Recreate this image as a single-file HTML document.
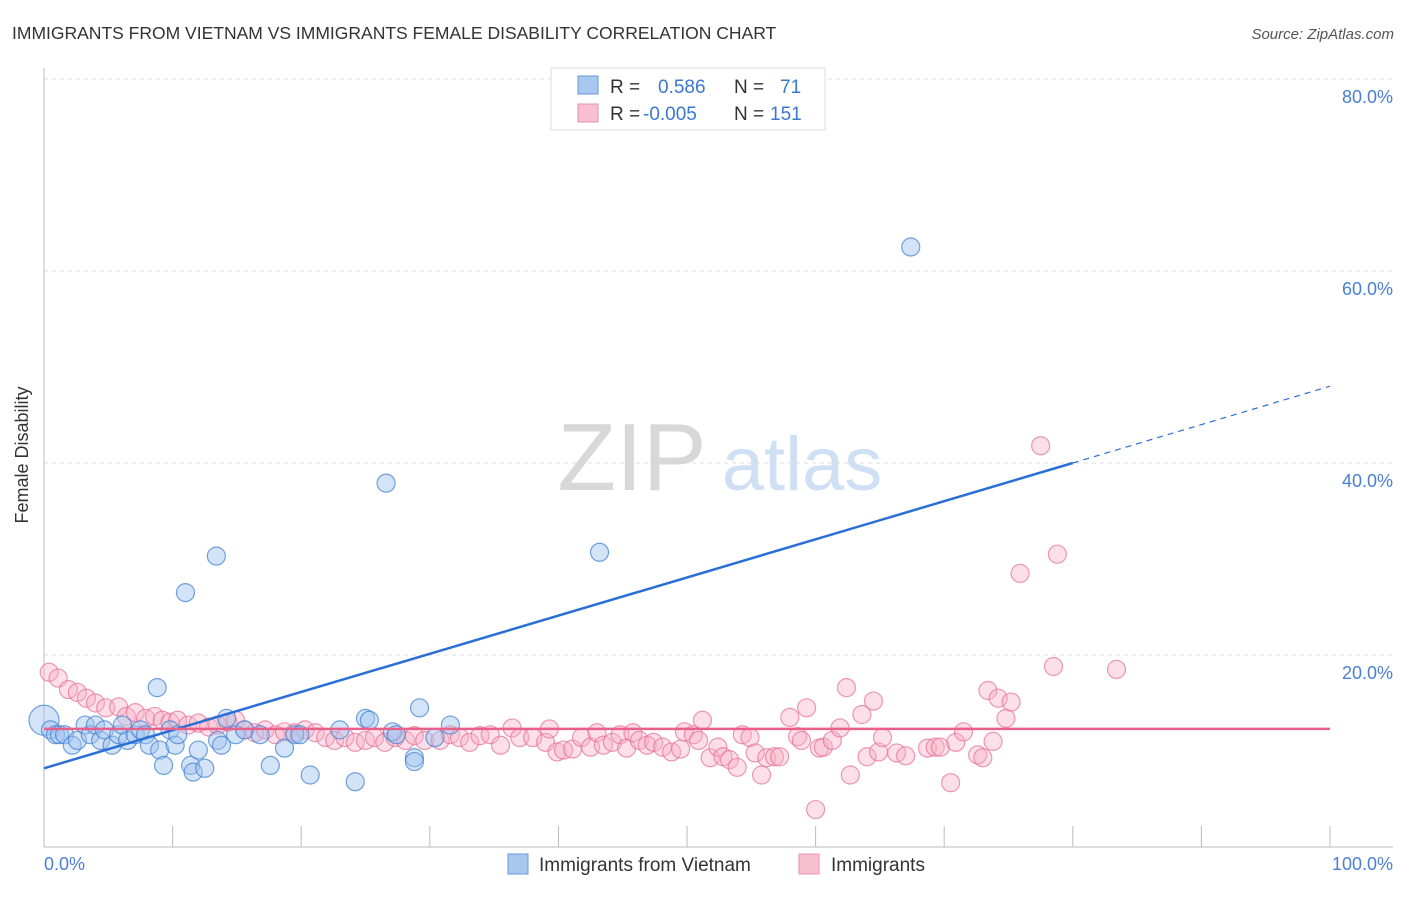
<!DOCTYPE html>
<html><head><meta charset="utf-8"><style>
body{margin:0;background:#fff;font-family:"Liberation Sans",sans-serif;}
svg text{font-family:"Liberation Sans",sans-serif;}
</style></head><body>
<svg id="chart" width="1406" height="892" xmlns="http://www.w3.org/2000/svg">
<text x="12" y="39" font-size="17.5" fill="#333">IMMIGRANTS FROM VIETNAM VS IMMIGRANTS FEMALE DISABILITY CORRELATION CHART</text>
<text x="1394" y="39" font-size="15" fill="#555" font-style="italic" text-anchor="end">Source: ZipAtlas.com</text>
<text x="28" y="455" font-size="18" fill="#333" text-anchor="middle" transform="rotate(-90 28 455)">Female Disability</text>
<g>
<text x="632" y="490" font-size="96" fill="#d8d8d8" font-family="Liberation Serif" text-anchor="middle">ZIP</text>
<text x="802" y="490" font-size="76" fill="#cfe0f4" text-anchor="middle">atlas</text>
</g>
<g id="grid"></g><g id="axes"></g><g id="pinkPts"></g><g id="bluePts"></g><g id="trends"></g>
<g>
<rect x="551" y="68" width="274" height="62" fill="#fff" stroke="#ddd"/>
<rect x="578" y="76" width="20" height="18" fill="#a8c8f0" stroke="#6a9ad8"/>
<rect x="578" y="104" width="20" height="18" fill="#f8c0d0" stroke="#e890aa"/>
<text x="610" y="93" font-size="19" fill="#333">R = <tspan fill="#3a78d0" x="658">0.586</tspan><tspan x="734" fill="#333">N = </tspan><tspan x="780" fill="#3a78d0">71</tspan></text>
<text x="610" y="120" font-size="19" fill="#333">R = <tspan fill="#3a78d0" x="643">-0.005</tspan><tspan x="734" fill="#333">N = </tspan><tspan x="770" fill="#3a78d0">151</tspan></text>
</g>
<g>
<rect x="508" y="854" width="20" height="20" fill="#a8c8f0" stroke="#6a9ad8"/>
<text x="539" y="871" font-size="19" fill="#333">Immigrants from Vietnam</text>
<rect x="799" y="854" width="20" height="20" fill="#f8c0d0" stroke="#e890aa"/>
<text x="831" y="871" font-size="19" fill="#333">Immigrants</text>
</g>
</svg>
<script>
const yTicks=[20,40,60,80];
const yTickLabels=["20.0%","40.0%","60.0%","80.0%"];
const xTicks=[0,10,20,30,40,50,60,70,80,90,100];
const blueX=[0,0.5,0.9,1.2,1.6,2.2,2.6,3.2,3.6,4.0,4.4,4.7,5.3,5.8,6.1,6.5,7.1,7.5,7.9,8.2,8.8,9.0,9.3,9.8,10.2,10.4,11.0,11.4,11.6,12.0,12.5,13.4,13.5,13.8,14.2,14.9,15.6,16.8,17.6,18.7,19.5,19.9,20.7,23.0,24.2,25.0,25.3,26.6,27.1,27.4,28.8,28.8,29.2,30.4,31.6,43.2,67.4];
const blueY=[13.2,12.2,11.7,11.7,11.7,10.6,11.1,12.7,11.7,12.7,11.1,12.2,10.6,11.7,12.7,11.1,11.7,12.2,11.7,10.6,16.6,10.1,8.5,12.2,10.6,11.7,26.5,8.5,7.8,10.1,8.2,30.3,11.1,10.6,13.4,11.7,12.2,11.7,8.5,10.3,11.7,11.7,7.5,12.2,6.8,13.4,13.2,37.9,12.0,11.7,9.3,8.9,14.5,11.4,12.7,30.7,62.5];
const pinkX=[0.4,1.1,1.9,2.6,3.3,4.0,4.8,5.8,6.4,7.1,7.9,8.6,9.2,9.8,10.4,11.2,12.0,12.8,13.5,14.3,14.9,15.6,16.4,17.2,18.0,18.7,19.5,20.3,21.1,21.9,22.6,23.4,24.2,25.0,25.7,26.5,27.3,28.1,28.8,29.6,30.8,31.6,32.3,33.1,33.9,34.7,35.5,36.4,37.0,38.0,39.0,39.3,39.9,40.4,41.1,41.8,42.5,43.0,43.5,44.2,44.8,45.3,45.8,46.3,46.9,47.4,48.1,48.8,49.5,49.8,50.5,50.9,51.2,51.8,52.4,52.8,53.3,53.9,54.3,54.9,55.3,55.8,56.2,56.8,57.2,58.0,58.6,58.9,59.3,60.0,60.3,60.6,61.3,61.9,62.4,62.7,63.6,64.0,64.5,64.9,65.2,66.3,67.0,68.7,69.3,69.7,70.5,70.9,71.5,72.6,73.0,73.4,73.8,74.2,74.8,75.2,75.9,77.5,78.5,78.8,83.4];
const pinkY=[18.2,17.6,16.4,16.1,15.5,15.0,14.5,14.6,13.6,14.0,13.4,13.6,13.2,13.0,13.2,12.7,12.9,12.5,12.7,13.0,13.2,12.2,11.9,12.2,11.7,12.0,11.9,12.2,11.9,11.4,11.1,11.4,10.9,11.1,11.4,10.9,11.4,11.1,11.6,11.1,11.1,11.7,11.4,10.9,11.6,11.7,10.6,12.4,11.4,11.4,10.9,12.3,9.9,10.1,10.2,11.4,10.4,11.9,10.6,10.9,11.7,10.3,11.9,11.1,10.6,10.9,10.4,9.9,10.2,12.0,11.7,11.1,13.2,9.3,10.4,9.4,9.1,8.3,11.7,11.4,9.8,7.5,9.3,9.4,9.4,13.5,11.5,11.1,14.5,3.9,10.3,10.4,11.1,12.4,16.6,7.5,13.8,9.4,15.2,9.9,11.4,9.8,9.5,10.3,10.4,10.4,6.7,10.9,12.0,9.6,9.3,16.3,11.0,15.5,13.4,15.1,28.5,41.8,18.8,30.5,18.5];
const blueTrend=[[0,8.2],[80,40],[100,48]];
const pinkTrend=[[0,12.3],[100,12.3]];
const NS="http://www.w3.org/2000/svg";
function sx(v){return 44+v*12.86;}
function sy(v){return 847-v*9.6;}
function mk(tag,attrs,parent){const e=document.createElementNS(NS,tag);for(const k in attrs)e.setAttribute(k,attrs[k]);document.getElementById(parent).appendChild(e);return e;}
yTicks.forEach((t,i)=>{
 const l=mk('line',{x1:44,x2:1393,y1:sy(t),y2:sy(t),stroke:'#ddd','stroke-dasharray':'4,4'},'grid');
 
 
 const tx=mk('text',{x:1393,y:sy(t)+24,'font-size':18,fill:'#4a80d4','text-anchor':'end'},'grid');
 tx.textContent=yTickLabels[i];
 
 
});
const ax=mk('line',{x1:44,x2:44,y1:68,y2:847,stroke:'#bbb'},'axes');


const bx=mk('line',{x1:44,x2:1393,y1:847,y2:847,stroke:'#bbb'},'axes');


xTicks.forEach(t=>{
 const l=mk('line',{x1:sx(t),x2:sx(t),y1:826,y2:847,stroke:'#bbb'},'axes');
 
 
});
const t0=mk('text',{x:44,y:870,'font-size':18,fill:'#4a80d4'},'axes');t0.textContent='0.0%';


const t1=mk('text',{x:1393,y:870,'font-size':18,fill:'#4a80d4','text-anchor':'end'},'axes');t1.textContent='100.0%';


pinkX.forEach((x,i)=>{
 const c=mk('circle',{cx:sx(x),cy:sy(pinkY[i]),r:9,fill:'rgba(248,176,198,0.4)',stroke:'rgba(230,110,150,0.7)','stroke-width':1.2},'pinkPts');
 
 
});
blueX.forEach((x,i)=>{
 const c=mk('circle',{cx:sx(x),cy:sy(blueY[i]),r:i===0?15:9,fill:'rgba(160,196,240,0.45)',stroke:'rgba(70,130,210,0.75)','stroke-width':1.2},'bluePts');
 
 
});
const b1=mk('line',{x1:sx(blueTrend[0][0]),y1:sy(blueTrend[0][1]),x2:sx(blueTrend[1][0]),y2:sy(blueTrend[1][1]),stroke:'#2a6fd6','stroke-width':2.5},'trends');


const b2=mk('line',{x1:sx(blueTrend[1][0]),y1:sy(blueTrend[1][1]),x2:sx(blueTrend[2][0]),y2:sy(blueTrend[2][1]),stroke:'#2a6fd6','stroke-width':1.2,'stroke-dasharray':'6,5'},'trends');


const p1=mk('line',{x1:sx(pinkTrend[0][0]),y1:sy(pinkTrend[0][1]),x2:sx(pinkTrend[1][0]),y2:sy(pinkTrend[1][1]),stroke:'#e8608a','stroke-width':2.5},'trends');


</script>
</body></html>
